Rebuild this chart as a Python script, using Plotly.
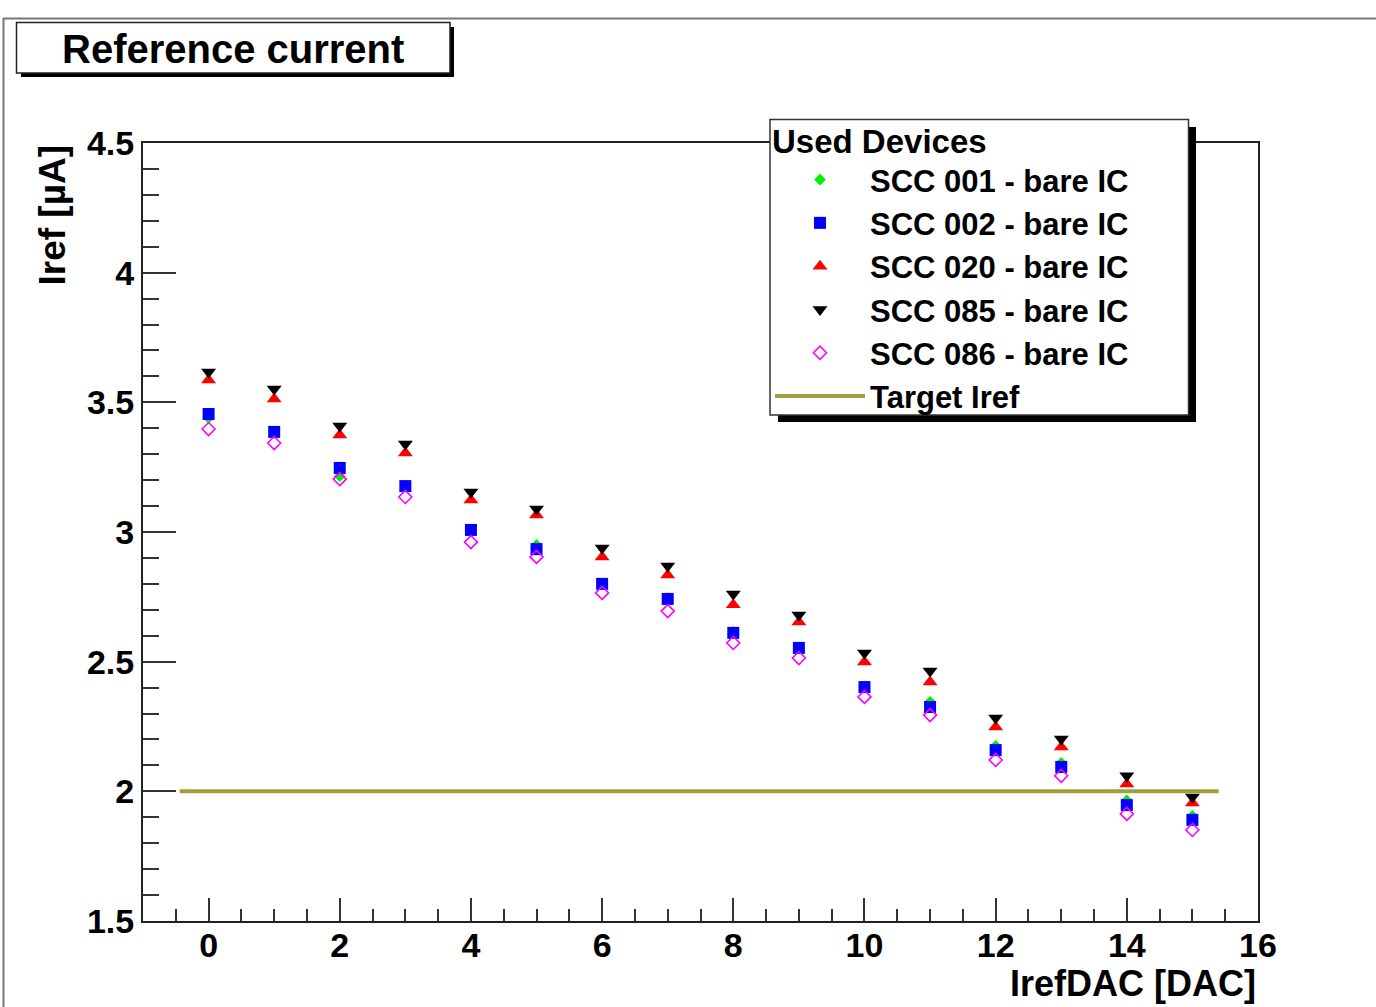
import plotly.graph_objects as go

# ---------------- data ----------------
iref_dac = list(range(16))
scc001 = [3.44, 3.38, 3.215, 3.175, 3.005, 2.95, 2.80, 2.745, 2.615, 2.555, 2.405, 2.345, 2.175, 2.11, 1.965, 1.905]
scc002 = [3.455, 3.386, 3.247, 3.177, 3.008, 2.934, 2.800, 2.742, 2.611, 2.553, 2.402, 2.325, 2.159, 2.094, 1.947, 1.890]
scc020 = [3.586, 3.513, 3.374, 3.305, 3.123, 3.066, 2.904, 2.834, 2.719, 2.653, 2.499, 2.422, 2.248, 2.171, 2.028, 1.955]
scc085 = [3.617, 3.551, 3.409, 3.339, 3.154, 3.089, 2.938, 2.869, 2.761, 2.680, 2.533, 2.464, 2.283, 2.202, 2.060, 1.978]
scc086 = [3.397, 3.343, 3.204, 3.135, 2.961, 2.904, 2.765, 2.695, 2.572, 2.514, 2.364, 2.294, 2.121, 2.060, 1.913, 1.851]
target_x = [-0.44, 15.4]
target_y = [2.0, 2.0]

series_names = ["SCC 001 - bare IC", "SCC 002 - bare IC", "SCC 020 - bare IC",
                "SCC 085 - bare IC", "SCC 086 - bare IC"]
title_text = "Reference current"
legend_title = "Used Devices"
target_name = "Target Iref"
x_title = "IrefDAC [DAC]"
y_title = "Iref [µA]"

# ---------------- layout geometry (pixels) ----------------
W, H = 1376, 1007
L, R, T, B = 143, 1258, 143, 921
FONT = "Liberation Sans, Arial, sans-serif"


def px(x):
    return (x - L) / (R - L)


def py(y):
    return (B - y) / (B - T)


fig = go.Figure()

styles = [
    dict(symbol="diamond", size=9, color="#00ee00"),
    dict(symbol="square", size=12, color="#0000ff"),
    dict(symbol="triangle-up", size=13, color="#ff0000"),
    dict(symbol="triangle-down", size=13, color="#000000"),
    dict(symbol="diamond-open", size=10, color="#ff00ff", line=dict(width=1.6, color="#ff00ff")),
]
for name, ys, st in zip(series_names, [scc001, scc002, scc020, scc085, scc086], styles):
    fig.add_trace(go.Scatter(x=iref_dac, y=ys, mode="markers", name=name, marker=st))

fig.add_trace(go.Scatter(x=target_x, y=target_y, mode="lines", name=target_name,
                         line=dict(color="#a0a03c", width=4)))

shapes = []
# outer canvas frame (top and left)
shapes.append(dict(type="line", xref="paper", yref="paper", x0=px(3), x1=px(W + 5), y0=py(18.5), y1=py(18.5),
                   line=dict(color="#777777", width=2), layer="above"))
shapes.append(dict(type="line", xref="paper", yref="paper", x0=px(3.5), x1=px(3.5), y0=py(18), y1=py(H + 5),
                   line=dict(color="#777777", width=2), layer="above"))
# title box with shadow
shapes.append(dict(type="rect", xref="paper", yref="paper", x0=px(21), x1=px(454), y0=py(27), y1=py(77),
                   fillcolor="black", line=dict(width=0), layer="above"))
shapes.append(dict(type="rect", xref="paper", yref="paper", x0=px(16.5), x1=px(450), y0=py(22.5), y1=py(73),
                   fillcolor="white", line=dict(color="#222222", width=1.5), layer="above"))
# legend box with shadow
shapes.append(dict(type="rect", xref="paper", yref="paper", x0=px(778), x1=px(1196), y0=py(127), y1=py(422),
                   fillcolor="black", line=dict(width=0), layer="above"))
shapes.append(dict(type="rect", xref="paper", yref="paper", x0=px(770), x1=px(1188.5), y0=py(119.5), y1=py(415),
                   fillcolor="white", line=dict(color="#333333", width=1.5), layer="above"))

annotations = [
    dict(text=title_text, xref="paper", yref="paper", x=px(233), y=py(49), xanchor="center", yanchor="middle",
         showarrow=False, font=dict(family=FONT, size=40, color="black", weight="bold")),
    dict(text=y_title, xref="paper", yref="paper", x=px(52), y=py(143), xanchor="center", yanchor="top",
         textangle=-90, showarrow=False, font=dict(family=FONT, size=37, color="black", weight="bold")),
    dict(text=x_title, xref="paper", yref="paper", x=px(1258), y=py(983), xanchor="right", yanchor="middle",
         showarrow=False, font=dict(family=FONT, size=36, color="black", weight="bold")),
]

fig.update_layout(
    width=W, height=H, autosize=False,
    margin=dict(l=L, r=W - R, t=T, b=H - B, pad=0),
    paper_bgcolor="white", plot_bgcolor="white",
    showlegend=True,
    legend=dict(
        x=px(770), y=py(110), xanchor="left", yanchor="top",
        bgcolor="rgba(0,0,0,0)", borderwidth=0,
        title=dict(text=legend_title, font=dict(family=FONT, size=33, color="black", weight="bold")),
        font=dict(family=FONT, size=31, color="black", weight="bold"),
        itemwidth=90, tracegroupgap=0, itemsizing="trace",
    ),
    shapes=shapes,
    annotations=annotations,
    xaxis=dict(
        range=[-1, 16], tickmode="linear", tick0=0, dtick=2,
        ticks="inside", ticklen=23, tickwidth=1.5, tickcolor="#333333",
        showline=True, linecolor="#222222", linewidth=2, mirror=True,
        showgrid=False, zeroline=False, ticklabelstandoff=-7,
        tickfont=dict(family=FONT, size=34, color="black", weight="bold"),
        minor=dict(tickmode="linear", tick0=0, dtick=0.5, ticks="inside", ticklen=12,
                   tickwidth=1.5, tickcolor="#333333", showgrid=False),
    ),
    yaxis=dict(
        range=[1.5, 4.5], tickmode="linear", tick0=1.5, dtick=0.5,
        ticks="inside", ticklen=33, tickwidth=1.5, tickcolor="#333333",
        showline=True, linecolor="#222222", linewidth=2, mirror=True,
        showgrid=False, zeroline=False,
        tickformat="~g",
        tickfont=dict(family=FONT, size=34, color="black", weight="bold"),
        minor=dict(tickmode="linear", tick0=1.5, dtick=0.1, ticks="inside", ticklen=16,
                   tickwidth=1.5, tickcolor="#333333", showgrid=False),
    ),
)

fig.write_html("out.html", config={"displayModeBar": False},
               post_script="document.body.style.margin='0px';document.body.style.overflow='hidden';")
